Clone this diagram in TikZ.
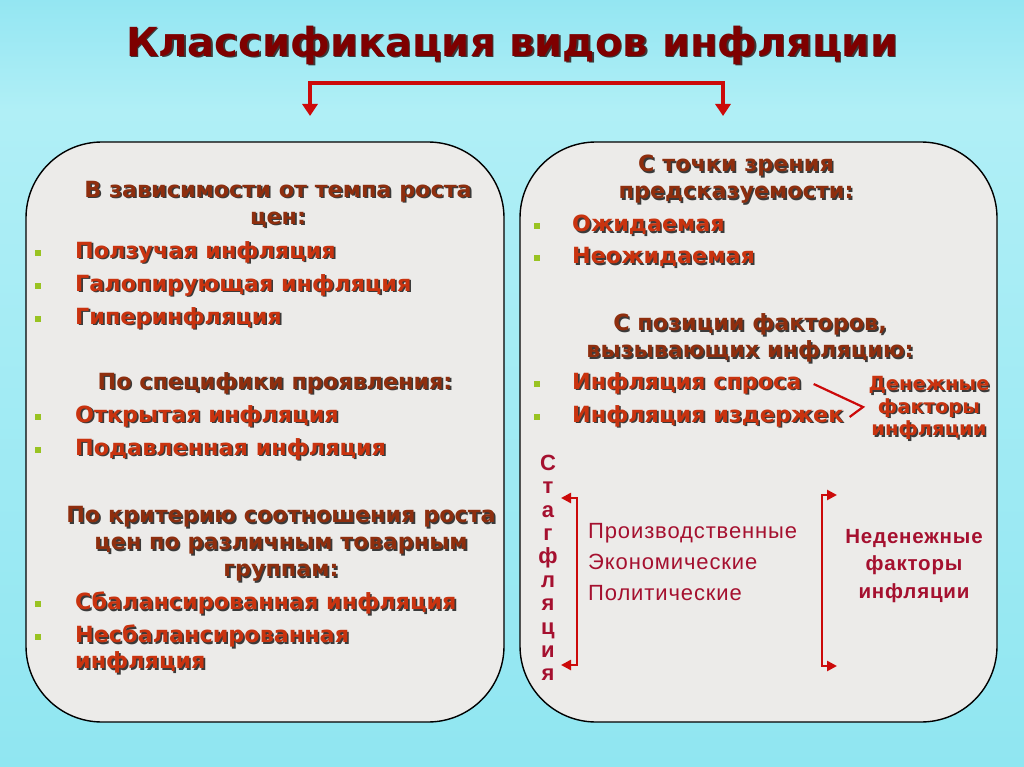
\documentclass[tikz,border=0pt]{standalone}
\usepackage{fontspec}
\setmainfont{DejaVu Sans}
\newfontfamily\arialf[LetterSpace=4]{Liberation Sans}
\newfontfamily\arialb{Liberation Sans}
\usetikzlibrary{arrows.meta}
\definecolor{bgtop}{HTML}{94E6F2}
\definecolor{bgmid}{HTML}{B0EFF6}
\definecolor{bgbot}{HTML}{90E6F1}
\definecolor{panelc}{HTML}{ECEBE9}
\definecolor{titlec}{HTML}{7E0000}
\definecolor{headc}{HTML}{8E2E0E}
\definecolor{itemc}{HTML}{C9330F}
\definecolor{crimc}{HTML}{A5102F}
\definecolor{arrc}{HTML}{CC0A0A}
\definecolor{bulc}{HTML}{99C322}
\definecolor{shadowc}{HTML}{3A3A3A}
\newcommand{\shd}[1]{\leavevmode\rlap{\kern1.6pt\raisebox{-1.6pt}{\textcolor{shadowc}{#1}}}#1}
\begin{document}
\begin{tikzpicture}[x=1pt,y=-1pt,
  panel/.style={draw=black,line width=1.4pt,fill=panelc,rounded corners=76pt,inner sep=0},
  head/.style={font=\bfseries\fontsize{22.3}{27}\selectfont,text=headc,align=center,inner sep=0},
  item/.style={font=\bfseries\fontsize{22.3}{26}\selectfont,text=itemc,anchor=west,align=left,inner sep=0},
  bul/.style={fill=bulc,minimum size=6.5pt,inner sep=0},
  plain/.style={font=\arialf\fontsize{22}{31}\selectfont,text=crimc,align=left,inner sep=0,anchor=west},
  tarr/.style={draw=arrc,line width=3.4pt,{Triangle[width=15pt,length=12pt]}-{Triangle[width=15pt,length=12pt]}},
  barr/.style={draw=arrc,line width=2.6pt,{Triangle[width=10pt,length=10pt]}-{Triangle[width=10pt,length=10pt]}},
  conn/.style={draw=arrc,line width=2.2pt}]
\shade[top color=bgtop,bottom color=bgmid] (0,0) rectangle (1024,110);
\shade[top color=bgmid,bottom color=bgbot] (0,110) rectangle (1024,767);
\useasboundingbox (0,0) rectangle (1024,767);

\node[font=\bfseries\fontsize{40}{48}\selectfont,text=titlec,inner sep=0] (title) at (512,46) {\shd{Классификация видов инфляции}};

\coordinate (tL) at (310,116);
\coordinate (tR) at (723,116);
\draw[tarr] (tL) -- (310,83) -- (723,83) -- (tR);

\node[panel,minimum width=478pt,minimum height=580pt] (L) at (265,432) {};
\node[panel,minimum width=477pt,minimum height=580pt] (R) at (758.5,432) {};

% left panel
\node[head] (h1) at (278,205) {\shd{В зависимости от темпа роста}\\\shd{цен:}};
\node[item] (i1) at (75,253) {\shd{Ползучая инфляция}};
\node[item] (i2) at (75,286) {\shd{Галопирующая инфляция}};
\node[item] (i3) at (75,319) {\shd{Гиперинфляция}};
\node[head] (h2) at (275,384) {\shd{По специфики проявления:}};
\node[item] (i4) at (75,417) {\shd{Открытая инфляция}};
\node[item] (i5) at (75,450) {\shd{Подавленная инфляция}};
\node[head] (h3) at (281,545) {\shd{По критерию соотношения роста}\\\shd{цен по различным товарным}\\\shd{группам:}};
\node[item] (i6) at (75,604) {\shd{Сбалансированная инфляция}};
\node[item] (i7) at (75,650) {\shd{Несбалансированная}\\\shd{инфляция}};
\foreach \n/\y in {1/253,2/286,3/319,4/417,5/450,6/604,7/637}
  \node[bul] (lb\n) at (38,\y) {};

% right panel
\node[head] (h4) at (736,180) {\shd{С точки зрения}\\\shd{предсказуемости:}};
\node[item] (j1) at (572,226) {\shd{Ожидаемая}};
\node[item] (j2) at (572,258) {\shd{Неожидаемая}};
\node[head] (h5) at (750,339) {\shd{С позиции факторов,}\\\shd{вызывающих инфляцию:}};
\node[item] (j3) at (572,384) {\shd{Инфляция спроса}};
\node[item] (j4) at (572,417) {\shd{Инфляция издержек}};
\foreach \n/\y in {1/226,2/258,3/384,4/417}
  \node[bul] (rb\n) at (537,\y) {};
\node[font=\bfseries\fontsize{19.5}{22.5}\selectfont,text=itemc,align=center,inner sep=0] (den) at (929,409) {\shd{Денежные}\\\shd{факторы}\\\shd{инфляции}};
\coordinate (dm) at (863,407);
\draw[conn] ([xshift=12pt]j3.east) -- (dm) -- ([xshift=6pt]j4.east);

\node[font=\arialb\bfseries\fontsize{22}{23.4}\selectfont,text=crimc,align=center,inner sep=0] (stag) at (548,568) {С\\т\\а\\г\\ф\\л\\я\\ц\\и\\я};
\coordinate (sA) at (561,498);
\coordinate (sB) at (561,665);
\draw[barr] (sA) -- (577,498) -- (577,665) -- (sB);

\node[plain] (fac) at (588,562) {Производственные\\Экономические\\Политические};

\coordinate (nA) at (837,495);
\coordinate (nB) at (837,666);
\draw[barr] (nA) -- (822,495) -- (822,666) -- (nB);
\node[font=\arialf\bfseries\fontsize{20.5}{27.5}\selectfont,text=crimc,align=center,inner sep=0] (nden) at (914,566) {Неденежные\\факторы\\инфляции};
\end{tikzpicture}
\end{document}
